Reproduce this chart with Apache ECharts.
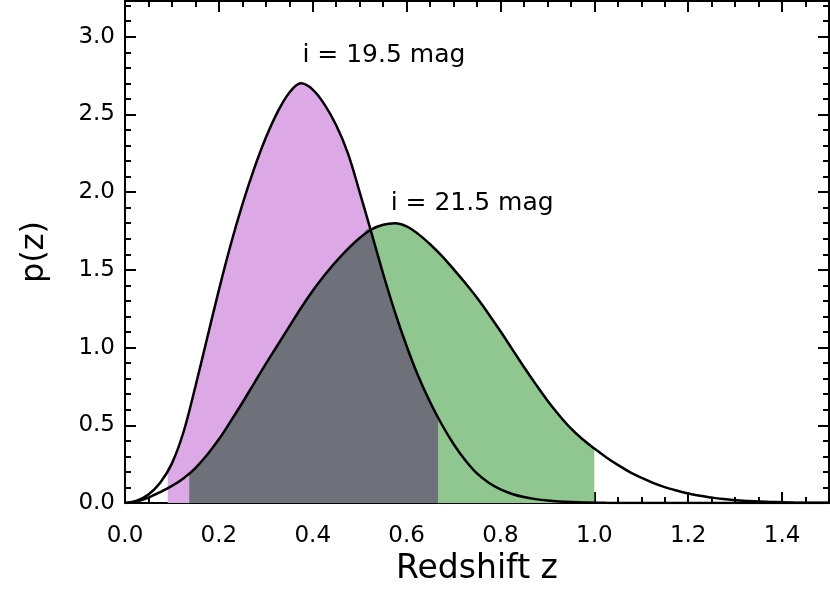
<!DOCTYPE html>
<html lang="en">
<head>
<meta charset="UTF-8">
<title>p(z) - Redshift distributions</title>
<script src="https://cdn.jsdelivr.net/npm/echarts@6.0.0/dist/echarts.min.js"></script>
<style>
  html, body { margin: 0; padding: 0; background: #fff; }
</style>
</head>
<body>
<div id="main" style="width: 830px; height: 593px;"></div>
<script type="text/javascript">
// redshift samples shared by both curves
const zValues = [0, 0.025, 0.05, 0.075, 0.1, 0.125, 0.15, 0.175, 0.2, 0.225,
  0.25, 0.275, 0.3, 0.325, 0.35, 0.375, 0.4, 0.425, 0.45, 0.475,
  0.5, 0.525, 0.55, 0.575, 0.6, 0.625, 0.65, 0.675, 0.7, 0.725,
  0.75, 0.775, 0.8, 0.825, 0.85, 0.875, 0.9, 0.925, 0.95, 0.975,
  1.0, 1.025, 1.05, 1.075, 1.1, 1.125, 1.15, 1.175, 1.2, 1.225,
  1.25, 1.275, 1.3, 1.325, 1.35, 1.375, 1.4, 1.425, 1.45, 1.475, 1.5];
// p(z) for i = 19.5 mag
const pBright = [0, 0.015, 0.055, 0.13, 0.255, 0.46, 0.75, 1.06, 1.37, 1.66,
  1.92, 2.15, 2.35, 2.515, 2.64, 2.70, 2.66, 2.565, 2.43, 2.25,
  2.00, 1.74, 1.475, 1.23, 1.01, 0.815, 0.65, 0.505, 0.38, 0.275,
  0.19, 0.13, 0.087, 0.058, 0.038, 0.025, 0.016, 0.01, 0.006, 0.004,
  0.002, 0.001, 0.0005, 0, 0, 0, 0, 0, 0, 0,
  0, 0, 0, 0, 0, 0, 0, 0, 0, 0, 0];
// p(z) for i = 21.5 mag
const pFaint = [0, 0.01, 0.035, 0.07, 0.11, 0.16, 0.225, 0.31, 0.41, 0.525,
  0.645, 0.77, 0.895, 1.015, 1.135, 1.255, 1.365, 1.465, 1.555, 1.635,
  1.705, 1.76, 1.79, 1.80, 1.78, 1.73, 1.665, 1.59, 1.505, 1.415,
  1.32, 1.215, 1.105, 0.99, 0.875, 0.765, 0.66, 0.565, 0.48, 0.41,
  0.35, 0.295, 0.245, 0.20, 0.163, 0.13, 0.102, 0.08, 0.061, 0.046,
  0.035, 0.025, 0.018, 0.013, 0.009, 0.007, 0.005, 0.003, 0.002, 0.0015, 0.001];
// edges of the shaded ranges [z, p] and where the two curves cross
const brightEdges = [[0.091, 0.21], [0.667, 0.55]];
const faintEdges = [[0.137, 0.19], [1.0, 0.35]];
const crossing = [0.519, 1.765];
// labels
const curveLabels = ['i = 19.5 mag', 'i = 21.5 mag'];
const labelSpots = [[0.378, 2.88], [0.566, 1.93]];

const font = 'DejaVu Sans';
const pink = '#dca8e6';
const green = '#90c690';
const gray = '#6e707a';

const pairs = (ys) => zValues.map((z, i) => [z, ys[i]]);
const inside = (lo, hi) => zValues.map((z, i) => i).filter(i => zValues[i] > lo + 0.004 && zValues[i] < hi - 0.004);
const shade = (ys, edges) => [edges[0]].concat(inside(edges[0][0], edges[1][0]).map(i => [zValues[i], ys[i]]), [edges[1]]);
// overlap: starts on the faint curve, ends on the bright curve, follows the lower of the two
const overlap = [faintEdges[0]]
  .concat(inside(faintEdges[0][0], brightEdges[1][0]).map(i => [zValues[i], Math.min(pBright[i], pFaint[i])]), [crossing], [brightEdges[1]])
  .sort((a, b) => a[0] - b[0]);

const chart = echarts.init(document.getElementById('main'));

// each side of the box is a minor-tick axis plus a major-tick axis
function axisPair(pos, extent, major, minor, withLabels, extra) {
  const base = {
    type: 'value', position: pos, min: extent[0], max: extent[1],
    splitLine: { show: false },
    axisLine: { onZero: false, show: false }
  };
  const minorAxis = Object.assign({}, base, {
    interval: minor,
    axisTick: { show: true, inside: true, length: 6, lineStyle: { color: '#000', width: 2 } },
    axisLabel: { show: false }
  });
  const majorAxis = Object.assign({}, base, {
    interval: major,
    axisLine: { onZero: false, show: true, lineStyle: { color: '#000', width: 2 } },
    axisTick: { show: true, inside: true, length: 11, lineStyle: { color: '#000', width: 2 } },
    axisLabel: withLabels ? Object.assign({
      show: true, color: '#000', fontFamily: font, fontSize: 23,
      showMaxLabel: false,
      formatter: (v) => v.toFixed(1)
    }, extra.label) : { show: false }
  }, withLabels ? extra.axis : {});
  return [minorAxis, majorAxis];
}

const xAxes = [].concat(
  axisPair('bottom', [0, 1.5], 0.2, 0.05, true, {
    label: { margin: 22 },
    axis: { name: 'Redshift z', nameLocation: 'middle', nameGap: 44,
      nameTextStyle: { color: '#000', fontFamily: font, fontSize: 33 } }
  }),
  axisPair('top', [0, 1.5], 0.2, 0.05, false, {})
);
const yAxes = [].concat(
  axisPair('left', [0, 3.23], 0.5, 0.1, true, {
    label: { margin: 10 },
    axis: { name: 'p(z)', nameLocation: 'middle', nameGap: 74,
      nameTextStyle: { color: '#000', fontFamily: font, fontSize: 32 } }
  }),
  axisPair('right', [0, 3.23], 0.5, 0.1, false, {})
);

function fill(data, color) {
  return {
    type: 'line', data: data, smooth: 0.35, showSymbol: false, silent: true,
    lineStyle: { width: 0 }, areaStyle: { color: color, opacity: 1 }
  };
}
function curve(ys) {
  return {
    type: 'line', data: pairs(ys), smooth: 0.35, showSymbol: false, silent: true,
    lineStyle: { color: '#000', width: 2.5 }, z: 5
  };
}

chart.setOption({
  animation: false,
  grid: { left: 125, right: 1, top: 1, bottom: 90, containLabel: false, outerBoundsMode: 'none' },
  xAxis: xAxes,
  yAxis: yAxes,
  series: [
    fill(shade(pBright, brightEdges), pink),
    fill(shade(pFaint, faintEdges), green),
    fill(overlap, gray),
    curve(pBright),
    curve(pFaint),
    {
      type: 'scatter', symbolSize: 0, silent: true, z: 6,
      itemStyle: { opacity: 1 },
      data: labelSpots.map((p, i) => ({ value: p, name: curveLabels[i] })),
      label: {
        show: true, position: [0, 0], align: 'left', verticalAlign: 'middle', opacity: 1,
        formatter: (p) => p.name, color: '#000', fontFamily: font, fontSize: 25
      }
    }
  ]
});
</script>
</body>
</html>
